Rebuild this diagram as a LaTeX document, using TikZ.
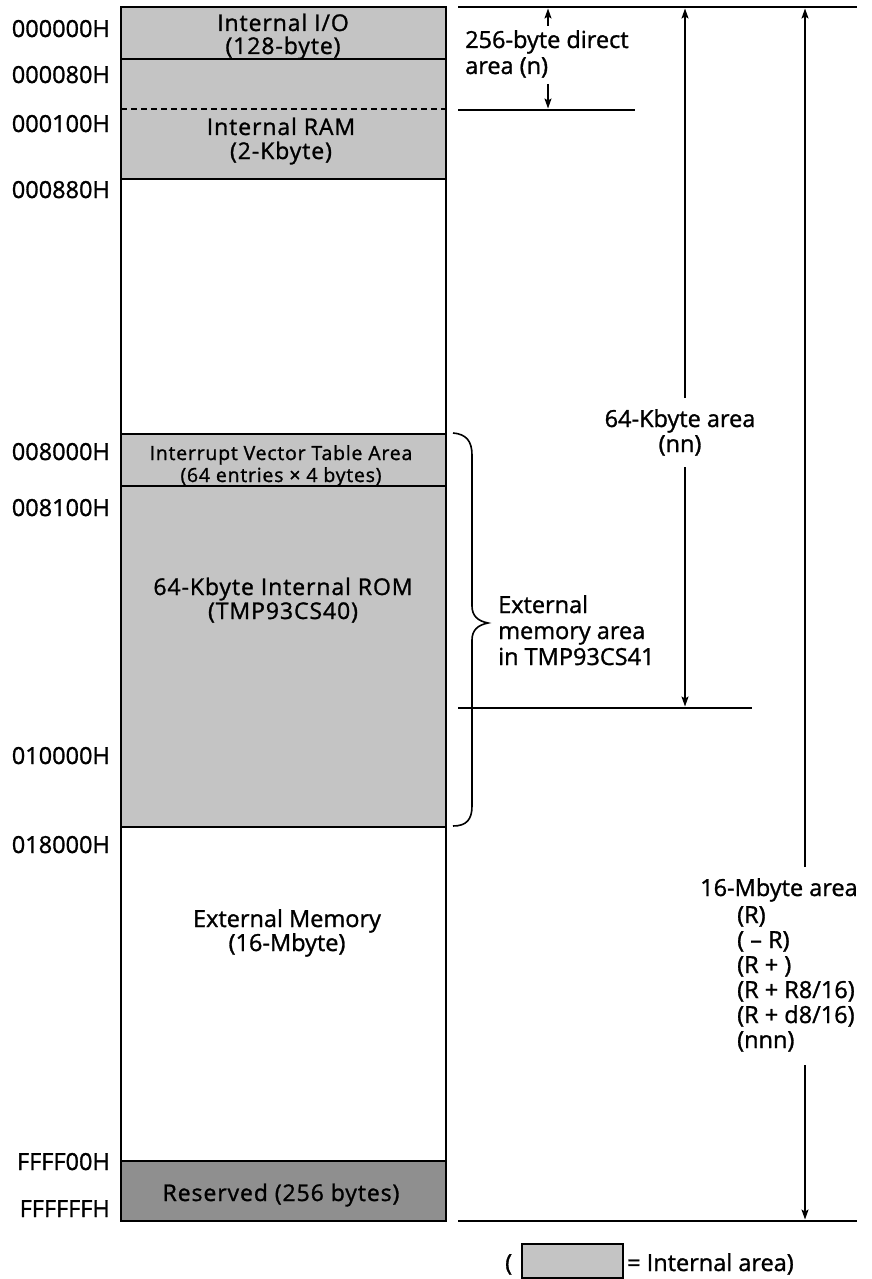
\documentclass[tikz,border=0pt]{standalone}
\usepackage{fontspec}
\setmainfont{Open Sans}[FakeBold=1.2]
\newfontfamily\boxfont{Open Sans}[LetterSpace=4,FakeBold=1.2]
\usetikzlibrary{arrows.meta}
\definecolor{intgray}{gray}{0.77}
\definecolor{resgray}{gray}{0.56}
\tikzset{
  lbl/.style={font=\fontsize{23.5}{25}\selectfont, inner sep=0pt},
  addr/.style={lbl, anchor=base east},
  lft/.style={lbl, anchor=base west},
  ctr/.style={lbl, anchor=base},
  intxt/.style={font={\boxfont\fontsize{23}{25}\selectfont}, inner sep=0pt, anchor=base},
  smalltxt/.style={font={\boxfont\fontsize{19.5}{21}\selectfont}, inner sep=0pt, anchor=base},
  boxline/.style={line width=2pt},
  sepline/.style={line width=1.6pt},
  rline/.style={line width=1.8pt},
  arr/.style={line width=1.5pt, -{Stealth[length=10pt,width=7pt,inset=2pt]}},
}
\begin{document}
\begin{tikzpicture}[x=1pt,y=-1pt]
\useasboundingbox (0,0) rectangle (872,1279);
% fills
\fill[intgray] (121,7) rectangle (446,179);
\fill[intgray] (121,434) rectangle (446,827);
\fill[resgray] (121,1161) rectangle (446,1221);
% separators
\draw[sepline] (121,59) -- (446,59);
\draw[sepline, dash pattern=on 6pt off 4pt] (121,109) -- (446,109);
\draw[sepline] (121,179) -- (446,179);
\draw[sepline] (121,434) -- (446,434);
\draw[sepline] (121,486) -- (446,486);
\draw[sepline] (121,827) -- (446,827);
\draw[sepline] (121,1161) -- (446,1161);
% outline
\draw[boxline] (121,7) rectangle (446,1221);

% address labels
\node[addr] (l0) at (110,37) {000000H};
\node[addr] (l1) at (110,83) {000080H};
\node[addr] (l2) at (110,132) {000100H};
\node[addr] (l3) at (110,198) {000880H};
\node[addr] (l4) at (110,460) {008000H};
\node[addr] (l5) at (110,516) {008100H};
\node[addr] (l6) at (110,764) {010000H};
\node[addr] (l7) at (110,853) {018000H};
\node[addr] (l8) at (110,1170) {FFFF00H};
\node[addr] (l9) at (110,1217) {FFFFFFH};

% region texts
\node[intxt] (io1) at (283,31) {Internal I/O};
\node[intxt] (io2) at (283,54) {(128-byte)};
\node[intxt] (ram1) at (281,135) {Internal RAM};
\node[intxt] (ram2) at (281,159) {(2-Kbyte)};
\node[smalltxt] (iv1) at (281,460) {Interrupt Vector Table Area};
\node[smalltxt] (iv2) at (281,482) {(64 entries × 4 bytes)};
\node[intxt] (rom1) at (283,595) {64-Kbyte Internal ROM};
\node[intxt] (rom2) at (283,619) {(TMP93CS40)};
\node[ctr] (ext1) at (287,927) {External Memory};
\node[ctr] (ext2) at (287,951) {(16-Mbyte)};
\node[intxt] (res) at (281,1201) {Reserved (256 bytes)};

% right horizontal lines
\coordinate (tl) at (458,7);  \coordinate (tr) at (857,7);
\coordinate (nl) at (458,110); \coordinate (nr) at (635,110);
\coordinate (kl) at (458,708); \coordinate (kr) at (752,708);
\coordinate (bl) at (458,1221); \coordinate (br) at (857,1221);
\draw[rline] (tl) -- (tr);
\draw[rline] (nl) -- (nr);
\draw[rline] (kl) -- (kr);
\draw[rline] (bl) -- (br);

% 256-byte direct area
\node[lft] (d1) at (465,48) {256-byte direct};
\node[lft] (d2) at (465,74) {area (n)};
\coordinate (a1s) at (548,26); \coordinate (a1e) at (548,8.5);
\coordinate (a2s) at (548,84); \coordinate (a2e) at (548,108.5);
\draw[arr] (a1s) -- (a1e);
\draw[arr] (a2s) -- (a2e);

% 64-Kbyte area
\node[ctr] (k1) at (680,427) {64-Kbyte area};
\node[ctr] (k2) at (680,452) {(nn)};
\coordinate (b1s) at (685,398); \coordinate (b1e) at (685,8.5);
\coordinate (b2s) at (685,467); \coordinate (b2e) at (685,706.5);
\draw[arr] (b1s) -- (b1e);
\draw[arr] (b2s) -- (b2e);

% 16-Mbyte area
\node[lft] (m0) at (700,896) {16-Mbyte area};
\node[lft] (m1) at (737,923) {(R)};
\node[lft] (m2) at (737,948) {( – R)};
\node[lft] (m3) at (737,973) {(R + )};
\node[lft] (m4) at (737,998) {(R + R8/16)};
\node[lft] (m5) at (737,1023) {(R + d8/16)};
\node[lft] (m6) at (737,1048) {(nnn)};
\coordinate (c1s) at (805,867); \coordinate (c1e) at (805,8.5);
\coordinate (c2s) at (805,1065); \coordinate (c2e) at (805,1219.5);
\draw[arr] (c1s) -- (c1e);
\draw[arr] (c2s) -- (c2e);

% brace
\draw[line width=1.6pt] (453,433) .. controls (466,434) and (472,441) .. (472,455)
  -- (472,606) .. controls (472,616) and (478,621) .. (488,623)
  .. controls (478,625) and (472,630) .. (472,640)
  -- (472,806) .. controls (472,820) and (466,826) .. (453,826);
\node[lft] (e1) at (498,613) {External};
\node[lft] (e2) at (498,639) {memory area};
\node[lft] (e3) at (498,665) {in TMP93CS41};

% legend
\node[lft] (lg1) at (505,1271) {(};
\fill[intgray] (522,1244) rectangle (623,1278);
\draw[line width=1.8pt] (522,1244) rectangle (623,1278);
\node[lft] (lg2) at (627,1271) {= Internal area)};
\end{tikzpicture}
\end{document}
